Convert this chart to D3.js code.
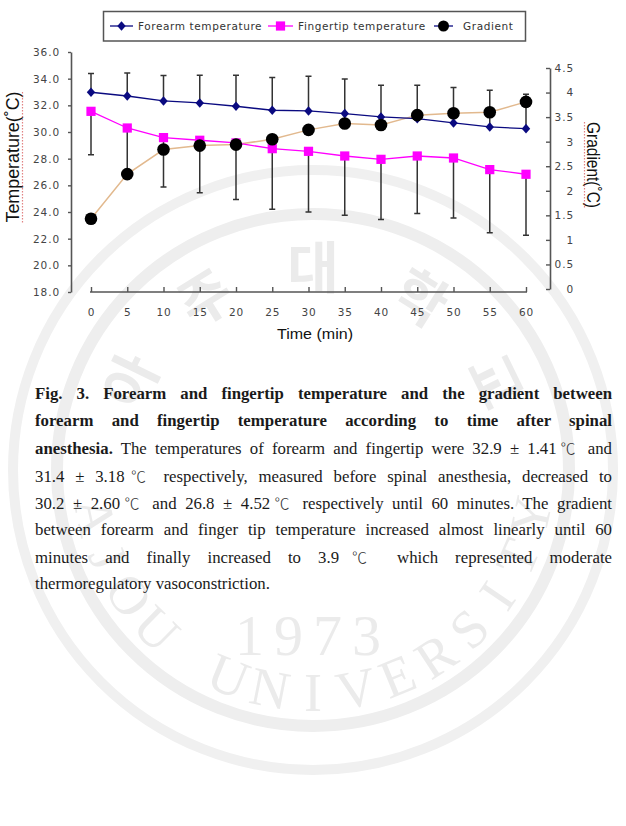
<!DOCTYPE html>
<html>
<head>
<meta charset="utf-8">
<script src="https://cdn.jsdelivr.net/npm/d3@7"></script>
<style>
  body { margin: 0; background: #fff; }
  #page { position: relative; width: 626px; height: 826px; overflow: hidden; background: #fff; }
  #page svg { position: absolute; left: 0; top: 0; }
  .caption { position: absolute; left: 35px; top: 380px; width: 577px;
             font-family: "Liberation Serif", "Times New Roman", serif; font-size: 16.8px; color: #1a1a1a; }
  .caption div { height: 27.2px; line-height: 27.2px; text-align: justify; text-align-last: justify; white-space: nowrap; }
  .caption div.last { text-align-last: left; }
  .caption .deg { font-family: "Noto Sans CJK KR", sans-serif; font-size: 15px; font-weight: 300; color: #333; }
</style>
</head>
<body>
<div id="page">
  <div id="chart"></div>
</div>
<script>
const times = [0, 5, 10, 15, 20, 25, 30, 35, 40, 45, 50, 55, 60];
const forearm = [32.98, 32.7, 32.33, 32.18, 31.93, 31.63, 31.58, 31.38, 31.13, 31.0, 30.68, 30.38, 30.25];
const forearmUpper = [34.38, 34.43, 34.23, 34.25, 34.25, 34.08, 34.18, 33.98, 33.5, 33.5, 33.33, 33.13, 32.83];
const fingertip = [31.55, 30.3, 29.58, 29.38, 29.18, 28.75, 28.55, 28.2, 27.95, 28.2, 28.05, 27.18, 26.83];
const fingertipLower = [28.3, 26.8, 25.88, 25.45, 24.93, 24.2, 24.0, 23.75, 23.43, 23.88, 23.55, 22.45, 22.25];
const gradient = [1.43, 2.34, 2.84, 2.92, 2.94, 3.05, 3.24, 3.37, 3.34, 3.54, 3.58, 3.6, 3.81];
const tempTicks = [18, 20, 22, 24, 26, 28, 30, 32, 34, 36];
const gradTicks = [0, 0.5, 1, 1.5, 2, 2.5, 3, 3.5, 4, 4.5];
const seriesNames = ["Forearm temperature", "Fingertip temperature", "Gradient"];

const deg = '<span class="deg">℃</span>';
const captionLines = [
  "<b>Fig. 3. Forearm and fingertip temperature and the gradient between</b>",
  "<b>forearm and fingertip temperature according to time after spinal</b>",
  `<b>anesthesia.</b> The temperatures of forearm and fingertip were 32.9 ± 1.41${deg} and`,
  `31.4 ± 3.18${deg} respectively, measured before spinal anesthesia, decreased to`,
  `30.2 ± 2.60${deg} and 26.8 ± 4.52${deg} respectively until 60 minutes. The gradient`,
  "between forearm and finger tip temperature increased almost linearly until 60",
  `minutes and finally increased to 3.9${deg} which represented moderate`,
  "thermoregulatory vasoconstriction."
];

// faint university seal behind the page
const sealTop = ["아", "주", "대", "학", "교"];
const sealBottom = "AJOU UNIVERSITY".split("");
const sealYear = "1973";

const navy = "#0a0a80", magenta = "#ff00ff", tan = "#e2b98e", barColor = "#333";
const tickFont = "'DejaVu Sans', sans-serif";

const svg = d3.select("#page").append("svg").attr("width", 626).attr("height", 826);

// watermark
const seal = svg.append("g").attr("fill", "#ebebeb").attr("stroke", "none");
const sc = [313, 470];
seal.append("circle").attr("cx", sc[0]).attr("cy", sc[1]).attr("r", 300)
  .attr("fill", "none").attr("stroke", "#f0f0f0").attr("stroke-width", 10);
seal.append("circle").attr("cx", sc[0]).attr("cy", sc[1]).attr("r", 256)
  .attr("fill", "none").attr("stroke", "#eeeeee").attr("stroke-width", 12);
const topAngles = d3.scaleLinear().domain([0, sealTop.length - 1]).range([-64, 64]);
seal.selectAll("text.k").data(sealTop).join("text").attr("class", "k")
  .attr("transform", (d, i) => `translate(${sc[0]},${sc[1]}) rotate(${topAngles(i)}) translate(0,-202)`)
  .attr("text-anchor", "middle").attr("dy", "0.35em").style("font-family", "'Noto Sans CJK KR', sans-serif")
  .style("font-size", "56px").style("font-weight", "bold").text(d => d);
const botAngles = d3.scaleLinear().domain([0, sealBottom.length - 1]).range([258, 102]);
seal.selectAll("text.e").data(sealBottom).join("text").attr("class", "e")
  .attr("transform", (d, i) => { const a = botAngles(i);
    const px = sc[0] + 222 * Math.sin(a * Math.PI / 180), py = sc[1] - 222 * Math.cos(a * Math.PI / 180);
    return `translate(${px},${py}) rotate(${a - 180})`; })
  .attr("text-anchor", "middle").attr("dy", "0.35em")
  .style("font-family", "'Liberation Serif', serif").style("font-size", "54px").text(d => d);
seal.append("text").attr("x", sc[0]).attr("y", 655).attr("text-anchor", "middle")
  .style("font-family", "'Liberation Serif', serif").style("font-size", "58px").style("letter-spacing", "10px")
  .text(sealYear);

const x = d3.scaleLinear().domain([0, 60]).range([91, 526]);
const yL = d3.scaleLinear().domain([18, 36]).range([292, 52]);
const yR = d3.scaleLinear().domain([0, 4.5]).range([289, 68]);

function styleAxis(g) {
  g.selectAll("path.domain").attr("stroke", "#555").attr("stroke-width", 1.6);
  g.selectAll(".tick line").attr("stroke", "#555").attr("stroke-width", 1.4);
  g.selectAll(".tick text").attr("fill", "#444").style("font-family", tickFont)
    .style("font-size", "10.5px").style("letter-spacing", "0.9px");
}

// left axis
svg.append("g").attr("transform", "translate(71,0)")
  .call(d3.axisLeft(yL).tickValues(tempTicks).tickFormat(d3.format(".1f")).tickSizeInner(3).tickSizeOuter(0).tickPadding(8))
  .call(styleAxis);

// right axis
const rAx = svg.append("g").attr("transform", "translate(550,0)")
  .call(d3.axisRight(yR).tickValues(gradTicks).tickFormat(d => d3.format("")(d)).tickSizeInner(-4).tickSizeOuter(0))
  .call(styleAxis);
rAx.selectAll(".tick text").attr("text-anchor", "end").attr("x", 24);

// bottom axis
const xAxisG = svg.append("g").attr("transform", "translate(0,292)")
  .call(d3.axisBottom(x).tickValues(times).tickSizeInner(-5).tickSizeOuter(0).tickPadding(17))
  .call(styleAxis);
xAxisG.select("path.domain").attr("d", `M${x(0) - 1},0H${x(60) + 1}`);

// error bars
const capW = 3;
const idx = d3.range(times.length);
svg.append("g").selectAll("path").data(idx).join("path")
  .attr("d", i => `M${x(times[i])},${yL(forearm[i])}V${yL(forearmUpper[i])}M${x(times[i]) - capW},${yL(forearmUpper[i])}H${x(times[i]) + capW}`)
  .attr("stroke", barColor).attr("stroke-width", 1.5).attr("fill", "none");
svg.append("g").selectAll("path").data(idx).join("path")
  .attr("d", i => `M${x(times[i])},${yL(fingertip[i])}V${yL(fingertipLower[i])}M${x(times[i]) - capW},${yL(fingertipLower[i])}H${x(times[i]) + capW}`)
  .attr("stroke", barColor).attr("stroke-width", 1.5).attr("fill", "none");

// lines
const lineL = d3.line().x((d, i) => x(times[i])).y(d => yL(d));
const lineR = d3.line().x((d, i) => x(times[i])).y(d => yR(d));
svg.append("path").datum(gradient).attr("d", lineR).attr("fill", "none").attr("stroke", tan).attr("stroke-width", 1.5);
svg.append("path").datum(fingertip).attr("d", lineL).attr("fill", "none").attr("stroke", magenta).attr("stroke-width", 1.3);
svg.append("path").datum(forearm).attr("d", lineL).attr("fill", "none").attr("stroke", navy).attr("stroke-width", 1.3);

// markers
const diamond = d3.symbol().type({ draw(ctx) { const h = 4.8, w = 4.2; ctx.moveTo(0, -h); ctx.lineTo(w, 0); ctx.lineTo(0, h); ctx.lineTo(-w, 0); ctx.closePath(); } });
const square = d3.symbol().type(d3.symbolSquare).size(85);
svg.append("g").selectAll("path").data(forearm).join("path")
  .attr("transform", (d, i) => `translate(${x(times[i])},${yL(d)})`).attr("d", diamond()).attr("fill", navy);
svg.append("g").selectAll("path").data(fingertip).join("path")
  .attr("transform", (d, i) => `translate(${x(times[i])},${yL(d)})`).attr("d", square()).attr("fill", magenta);
svg.append("g").selectAll("circle").data(gradient).join("circle")
  .attr("cx", (d, i) => x(times[i])).attr("cy", d => yR(d)).attr("r", 6.3).attr("fill", "#000");

// legend
const lg = svg.append("g");
lg.append("rect").attr("x", 103.5).attr("y", 11.5).attr("width", 422).attr("height", 29.5)
  .attr("fill", "#fff").attr("stroke", "#555").attr("stroke-width", 1.5);
const legendItems = [
  { name: seriesNames[0], x0: 110, x1: 133, tx: 138, color: navy, mark: "diamond" },
  { name: seriesNames[1], x0: 268, x1: 293, tx: 298, color: magenta, mark: "square" },
  { name: seriesNames[2], x0: 434, x1: 453, tx: 463, color: navy, mark: "circle" }
];
legendItems.forEach(it => {
  const cx = (it.x0 + it.x1) / 2;
  lg.append("line").attr("x1", it.x0).attr("x2", it.x1).attr("y1", 26).attr("y2", 26)
    .attr("stroke", it.color).attr("stroke-width", 1.3);
  if (it.mark === "diamond") lg.append("path").attr("transform", `translate(${cx},26)`).attr("d", diamond()).attr("fill", navy);
  if (it.mark === "square") lg.append("path").attr("transform", `translate(${cx},26)`).attr("d", square()).attr("fill", magenta);
  if (it.mark === "circle") lg.append("circle").attr("cx", cx).attr("cy", 26).attr("r", 5.5).attr("fill", "#000");
  lg.append("text").attr("x", it.tx).attr("y", 30).text(it.name)
    .attr("fill", "#333").style("font-family", tickFont).style("font-size", "10.5px").style("letter-spacing", "0.6px");
});

// axis titles
const titleFont = "'Liberation Sans Narrow', 'Liberation Sans', Arial, sans-serif";
svg.append("text").attr("transform", "translate(19,157) rotate(-90)").attr("text-anchor", "middle")
  .attr("textLength", 131).attr("lengthAdjust", "spacingAndGlyphs")
  .style("font-family", titleFont).style("font-size", "18px").attr("fill", "#111").text("Temperature(˚C)");
svg.append("path").attr("d", "M22.5,92V223").attr("stroke", "#d65050").attr("stroke-width", 1.2)
  .attr("stroke-dasharray", "1.5,1.5").attr("opacity", 0.7);
svg.append("text").attr("transform", "translate(587,165) rotate(90)").attr("text-anchor", "middle")
  .attr("textLength", 86).attr("lengthAdjust", "spacingAndGlyphs")
  .style("font-family", titleFont).style("font-size", "18px").attr("fill", "#111").text("Gradient(˚C)");
svg.append("path").attr("d", "M584.5,122V208").attr("stroke", "#d65050").attr("stroke-width", 1.2)
  .attr("stroke-dasharray", "1.5,1.5").attr("opacity", 0.7);
svg.append("text").attr("x", 315).attr("y", 339).attr("text-anchor", "middle")
  .attr("textLength", 76).attr("lengthAdjust", "spacingAndGlyphs")
  .style("font-family", "'Liberation Sans', Arial, sans-serif").style("font-size", "15.5px").attr("fill", "#111").text("Time (min)");

// caption
d3.select("#page").append("div").attr("class", "caption")
  .selectAll("div").data(captionLines).join("div")
  .classed("last", (d, i) => i === captionLines.length - 1)
  .html(d => d);
</script>
</body>
</html>
